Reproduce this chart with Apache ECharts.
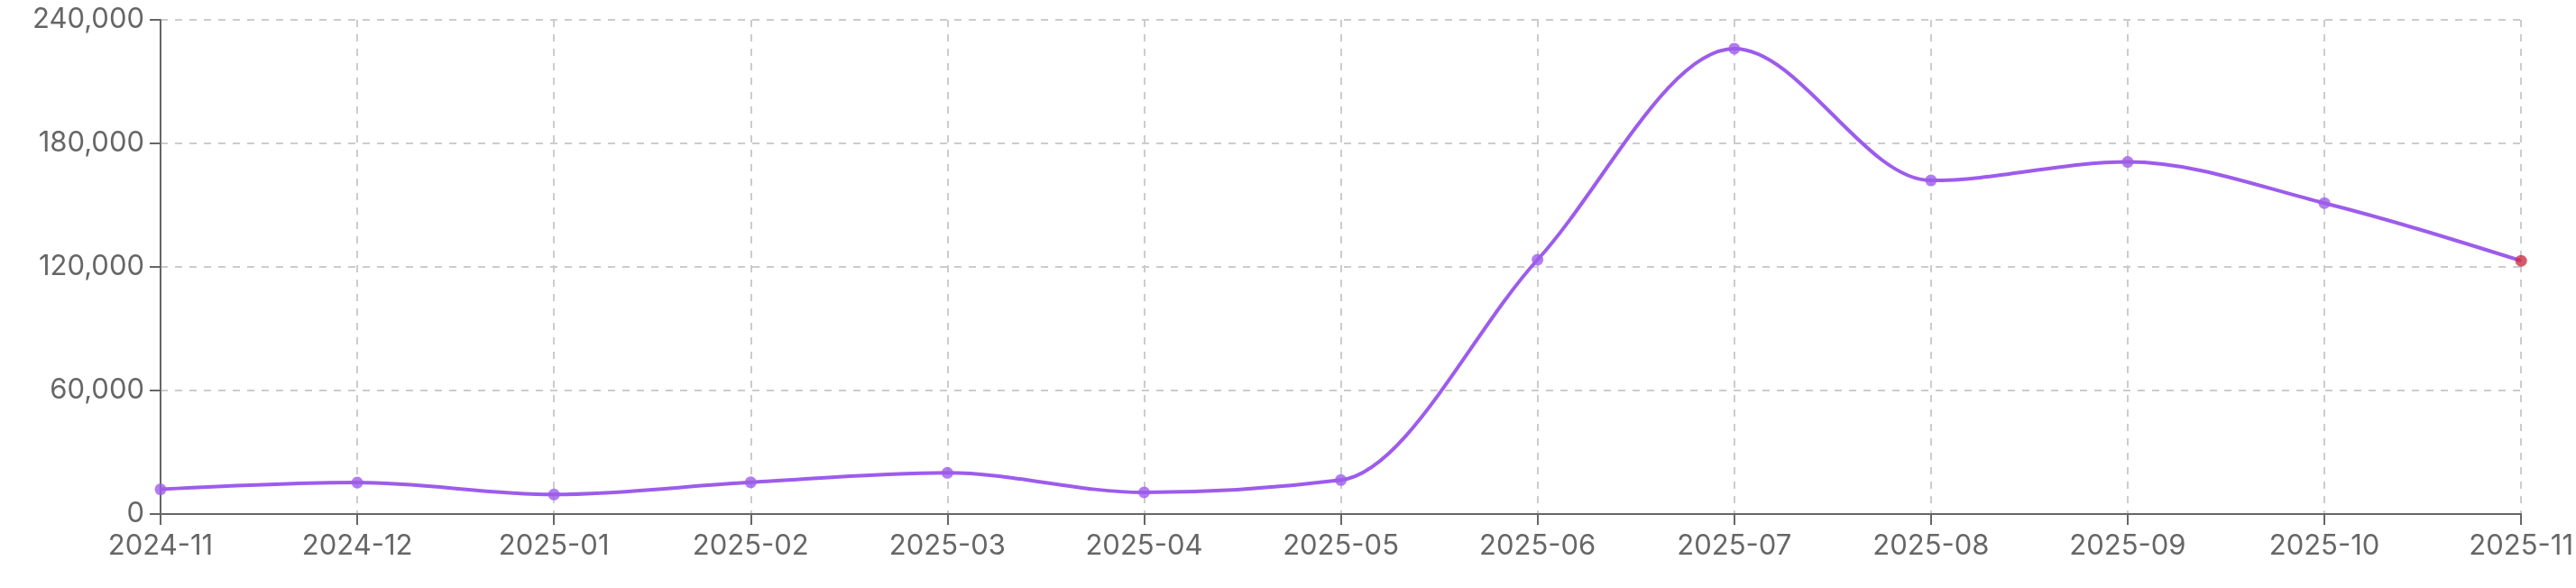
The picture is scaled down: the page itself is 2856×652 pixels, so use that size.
<!DOCTYPE html>
<html>
<head>
<meta charset="utf-8">
<script src="https://cdn.jsdelivr.net/npm/echarts@6/dist/echarts.min.js"></script>
<style>html,body{margin:0;padding:0;background:#fff;}#c{width:2856px;height:652px;}</style>
</head>
<body>
<div id="c"></div>
<script>
const categories = ['2024-11','2024-12','2025-01','2025-02','2025-03','2025-04','2025-05','2025-06','2025-07','2025-08','2025-09','2025-10','2025-11'];
const values = [12000, 15300, 9500, 15400, 20000, 10500, 16500, 123500, 226000, 162000, 171000, 151000, 123000];
const yTicks = [0, 60000, 120000, 180000, 240000];

const purple = '#9d5cec';
const red = '#cc2f44';
const chart = echarts.init(document.getElementById('c'));

// Monotone-X cubic path through points given in pixel coords (from api.coord)
function monotonePath(pts) {
  const n = pts.length;
  if (n < 2) return '';
  const sign = v => v < 0 ? -1 : 1;
  const t = new Array(n);
  const s = [];
  for (let i = 0; i < n - 1; i++) {
    const h = pts[i + 1][0] - pts[i][0];
    s.push(h ? (pts[i + 1][1] - pts[i][1]) / h : 0);
  }
  for (let i = 1; i < n - 1; i++) {
    const h0 = pts[i][0] - pts[i - 1][0], h1 = pts[i + 1][0] - pts[i][0];
    const s0 = s[i - 1], s1 = s[i];
    const p = (s0 * h1 + s1 * h0) / (h0 + h1);
    t[i] = (sign(s0) + sign(s1)) * Math.min(Math.abs(s0), Math.abs(s1), 0.5 * Math.abs(p)) || 0;
  }
  if (n === 2) { t[0] = s[0]; t[1] = s[0]; }
  else {
    t[0] = (3 * s[0] - t[1]) / 2;
    t[n - 1] = (3 * s[n - 2] - t[n - 2]) / 2;
  }
  let d = 'M' + pts[0][0] + ',' + pts[0][1];
  for (let i = 0; i < n - 1; i++) {
    const dx = (pts[i + 1][0] - pts[i][0]) / 3;
    d += 'C' + (pts[i][0] + dx) + ',' + (pts[i][1] + dx * t[i]) + ',' +
         (pts[i + 1][0] - dx) + ',' + (pts[i + 1][1] - dx * t[i + 1]) + ',' +
         pts[i + 1][0] + ',' + pts[i + 1][1];
  }
  return d;
}

const symbolData = values.map((v, i) => i === values.length - 1
  ? { value: [categories[i], v], itemStyle: { color: red } }
  : [categories[i], v]);

chart.setOption({
  animation: false,
  grid: { left: 178, right: 58, top: 22, bottom: 82, containLabel: false },
  textStyle: { fontFamily: 'Inter' },
  xAxis: {
    type: 'category',
    data: categories,
    boundaryGap: false,
    axisLine: { show: true, lineStyle: { color: '#666', width: 2 } },
    axisTick: { show: true, length: 12, lineStyle: { color: '#666', width: 2 }, alignWithLabel: true },
    axisLabel: { color: '#666', fontSize: 31, fontFamily: 'Inter', margin: 20 },
    splitLine: { show: true, lineStyle: { color: '#ccc', width: 2, type: [8, 8] } }
  },
  yAxis: {
    type: 'value',
    min: yTicks[0],
    max: yTicks[yTicks.length - 1],
    interval: yTicks[1] - yTicks[0],
    axisLine: { show: true, lineStyle: { color: '#666', width: 2 } },
    axisTick: { show: true, length: 12, lineStyle: { color: '#666', width: 2 } },
    axisLabel: { color: '#666', fontSize: 31, fontFamily: 'Inter', margin: 18,
      formatter: v => v.toLocaleString('en-US') },
    splitLine: { show: true, lineStyle: { color: '#ccc', width: 2, type: [8, 8] } }
  },
  series: [{
    type: 'custom',
    data: values.map((v, i) => [i, v]),
    clip: false,
    renderItem: function (params, api) {
      if (params.dataIndex !== 0) return null;
      const pts = values.map((v, i) => api.coord([i, v]));
      return {
        type: 'path',
        shape: { pathData: monotonePath(pts) },
        style: { fill: 'none', stroke: purple, lineWidth: 4 }
      };
    },
    z: 2
  }, {
    type: 'scatter',
    data: symbolData,
    symbol: 'circle',
    symbolSize: 13,
    itemStyle: { color: purple },
    z: 3
  }]
});
</script>
</body>
</html>
